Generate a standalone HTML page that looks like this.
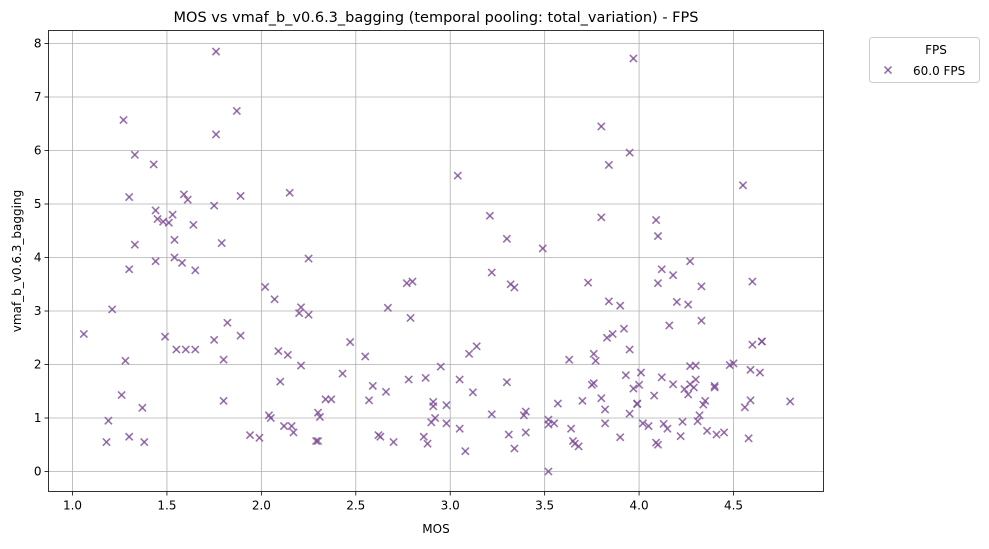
<!DOCTYPE html>
<html><head><meta charset="utf-8"><style>
body{margin:0;background:#fff;font-family:"DejaVu Sans","Liberation Sans",sans-serif;}
svg text{font-family:"DejaVu Sans","Liberation Sans",sans-serif;}
</style></head><body>
<svg id="chart" width="989" height="545" viewBox="0 0 989 545" xmlns="http://www.w3.org/2000/svg">
<rect width="989" height="545" fill="#fff"/>
<g id="grid"></g>
<g id="points"></g>
<rect x="48.5" y="30.5" width="775" height="461" fill="none" stroke="#000" stroke-width="0.8"/>
<g id="axes"></g>
<text x="436" y="22" font-size="14.5" text-anchor="middle">MOS vs vmaf_b_v0.6.3_bagging (temporal pooling: total_variation) - FPS</text>
<text x="436" y="533" font-size="12" text-anchor="middle">MOS</text>
<text transform="translate(21,261) rotate(-90)" font-size="12" text-anchor="middle">vmaf_b_v0.6.3_bagging</text>
<g>
<rect x="869.5" y="37.5" width="110" height="45" rx="3" fill="#fff" stroke="#ccc"/>
<text x="936" y="54" font-size="12" text-anchor="middle">FPS</text>
<g stroke="#7e4f96" stroke-opacity="0.8" stroke-width="1.6"><line x1="884.5" y1="66.5" x2="891.5" y2="73.5"/><line x1="884.5" y1="73.5" x2="891.5" y2="66.5"/></g>
<text x="913" y="75" font-size="12">60.0 FPS</text>
</g>
</svg>
<script>
const xTicks=[1.0,1.5,2.0,2.5,3.0,3.5,4.0,4.5];
const yTicks=[0,1,2,3,4,5,6,7,8];
const mos=[1.06,1.18,1.19,1.21,1.26,1.27,1.28,1.30,1.30,1.30,1.33,1.33,1.37,1.38,1.43,1.44,1.44,1.45,1.48,1.49,1.51,1.53,1.54,1.54,1.55,1.58,1.59,1.60,1.61,1.64,1.65,1.65,1.75,1.75,1.76,1.76,1.79,1.80,1.80,1.82,1.87,1.89,1.89,1.94,1.99,2.02,2.04,2.05,2.07,2.09,2.10,2.12,2.14,2.15,2.16,2.17,2.20,2.21,2.21,2.25,2.25,2.29,2.30,2.30,2.31,2.34,2.37,2.43,2.47,2.55,2.57,2.59,2.62,2.63,2.66,2.67,2.70,2.77,2.78,2.79,2.80,2.86,2.87,2.88,2.90,2.91,2.91,2.92,2.95,2.98,2.98,3.04,3.05,3.05,3.08,3.10,3.12,3.14,3.21,3.22,3.22,3.30,3.30,3.31,3.32,3.34,3.34,3.39,3.40,3.40,3.49,3.52,3.52,3.52,3.55,3.57,3.63,3.64,3.65,3.66,3.68,3.70,3.73,3.75,3.76,3.76,3.77,3.80,3.80,3.80,3.82,3.82,3.83,3.84,3.84,3.86,3.90,3.90,3.92,3.93,3.95,3.95,3.95,3.97,3.97,3.99,3.99,4.00,4.01,4.02,4.05,4.08,4.09,4.09,4.10,4.10,4.10,4.12,4.12,4.13,4.15,4.16,4.18,4.18,4.20,4.22,4.23,4.24,4.26,4.26,4.27,4.27,4.27,4.29,4.30,4.30,4.31,4.32,4.33,4.33,4.34,4.35,4.36,4.40,4.40,4.41,4.45,4.48,4.50,4.55,4.56,4.58,4.59,4.59,4.60,4.60,4.64,4.65,4.65,4.80];
const vmaf=[2.57,0.55,0.95,3.03,1.43,6.57,2.07,5.13,3.78,0.65,5.92,4.24,1.19,0.55,5.74,3.93,4.88,4.72,4.67,2.52,4.65,4.80,4.33,4.00,2.28,3.90,5.18,2.28,5.08,4.61,2.28,3.76,4.97,2.46,6.30,7.85,4.27,1.32,2.09,2.78,6.74,5.15,2.54,0.68,0.63,3.45,1.05,1.00,3.22,2.25,1.68,0.85,2.18,5.21,0.85,0.73,2.96,1.98,3.07,3.98,2.93,0.57,1.10,0.57,1.02,1.35,1.35,1.83,2.42,2.15,1.33,1.60,0.68,0.65,1.49,3.06,0.55,3.52,1.72,2.87,3.55,0.65,1.75,0.52,0.92,1.30,1.22,1.00,1.96,0.90,1.24,5.53,1.72,0.80,0.38,2.20,1.48,2.34,4.78,3.72,1.07,4.35,1.67,0.69,3.50,3.44,0.43,1.05,1.12,0.73,4.17,0.00,0.97,0.88,0.90,1.27,2.09,0.80,0.57,0.52,0.47,1.32,3.53,1.62,1.65,2.20,2.07,6.45,4.75,1.37,1.16,0.90,2.50,5.73,3.18,2.57,3.10,0.64,2.67,1.80,5.96,2.28,1.08,7.72,1.55,1.26,1.27,1.62,1.85,0.90,0.85,1.42,4.70,0.54,0.50,4.40,3.52,3.78,1.76,0.89,0.80,2.73,3.67,1.63,3.17,0.66,0.93,1.54,3.12,1.44,3.93,1.63,1.97,1.57,1.72,1.98,0.94,1.05,3.46,2.82,1.25,1.32,0.76,1.60,1.57,0.69,0.73,1.99,2.02,5.35,1.20,0.62,1.90,1.33,3.55,2.37,1.85,2.43,2.43,1.31];
const L=48.5,R=823.5,T=30.5,B=491.5;
const xmin=0.8729,xmax=4.9765,ymin=-0.3738,ymax=8.243;
function sx(v){return L+(v-xmin)/(xmax-xmin)*(R-L);}
function sy(v){return B-(v-ymin)/(ymax-ymin)*(B-T);}
const NS="http://www.w3.org/2000/svg";
function mk(t,a,p){const e=document.createElementNS(NS,t);for(const k in a)e.setAttribute(k,a[k]);p.appendChild(e);return e;}
const grid=document.getElementById('grid'),axes=document.getElementById('axes'),pts=document.getElementById('points');
xTicks.forEach(v=>{const x=sx(v);
const g=mk('line',{x1:x,x2:x,y1:T,y2:B,stroke:'#b0b0b0','stroke-width':0.8},grid);


mk('line',{x1:x,x2:x,y1:B,y2:B+4,stroke:'#000','stroke-width':0.8},axes);
const t=mk('text',{x:x,y:B+18,'font-size':12,'text-anchor':'middle'},axes);t.textContent=v.toFixed(1);

});
yTicks.forEach(v=>{const y=sy(v);
const g=mk('line',{x1:L,x2:R,y1:y,y2:y,stroke:'#b0b0b0','stroke-width':0.8},grid);


mk('line',{x1:L-4,x2:L,y1:y,y2:y,stroke:'#000','stroke-width':0.8},axes);
const t=mk('text',{x:L-7,y:y+4,'font-size':12,'text-anchor':'end'},axes);t.textContent=String(v);

});
mos.forEach((m,i)=>{const x=sx(m),y=sy(vmaf[i]),d=3.6;
const g=mk('g',{stroke:'#7e4f96','stroke-opacity':0.8,'stroke-width':1.6},pts);


mk('line',{x1:x-d,y1:y-d,x2:x+d,y2:y+d},g);
mk('line',{x1:x-d,y1:y+d,x2:x+d,y2:y-d},g);});
</script>
</body></html>
